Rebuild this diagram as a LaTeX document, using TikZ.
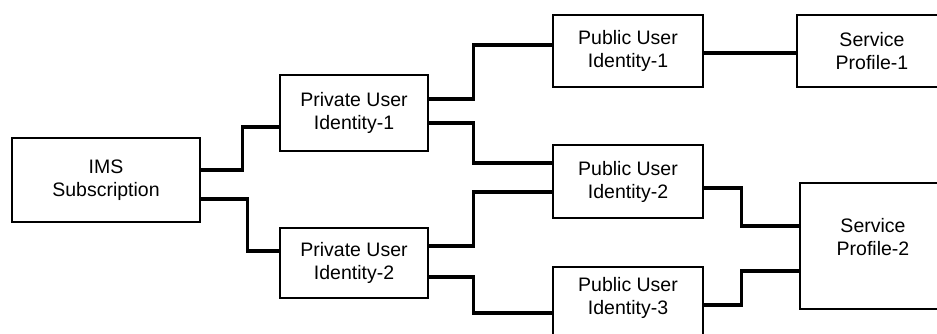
\documentclass[tikz,border=0pt]{standalone}
\usepackage{fontspec}
\setmainfont{Liberation Sans}
\begin{document}
\begin{tikzpicture}[x=1pt,y=-1pt,
  box/.style={draw=black, line width=2.6pt, fill=white, align=center, inner sep=0pt,
    font=\fontsize{19.5}{23}\selectfont},
  conn/.style={draw=black, line width=3.4pt}]
\useasboundingbox (0,0) rectangle (937,334);
\clip (0,0) rectangle (937,334);
\fill[white] (0,0) rectangle (937,334);
\node[box, minimum width=188pt, minimum height=84pt] (ims) at (106,180) {IMS\\Subscription};
\node[box, minimum width=148pt, minimum height=76pt] (pri1) at (354,113) {Private User\\Identity-1};
\node[box, minimum width=148pt, minimum height=70pt] (pri2) at (354,263) {Private User\\Identity-2};
\node[box, minimum width=150pt, minimum height=72pt] (pub1) at (628,51) {Public User\\Identity-1};
\node[box, minimum width=150pt, minimum height=73pt] (pub2) at (628,181.5) {Public User\\Identity-2};
\node[box, minimum width=150pt, minimum height=78pt, text depth=20pt] (pub3) at (628,306) {Public User\\Identity-3};
\node[box, minimum width=150pt, minimum height=72pt] (sp1) at (872,51) {Service\\Profile-1};
\node[box, minimum width=146pt, minimum height=126pt, text depth=19pt] (sp2) at (873,246) {Service\\Profile-2};
% connectors
\draw[conn] ([yshift=10pt]ims.east) -- ++(41,0) |- ([yshift=-14pt]pri1.west);
\draw[conn] ([yshift=-19pt]ims.east) -- ++(46,0) |- ([yshift=12pt]pri2.west);
\draw[conn] ([yshift=14pt]pri1.east) -- ++(44,0) |- ([yshift=6pt]pub1.west);
\draw[conn] ([yshift=-10pt]pri1.east) -- ++(44,0) |- ([yshift=18.5pt]pub2.west);
\draw[conn] ([yshift=17pt]pri2.east) -- ++(44,0) |- ([yshift=-10.5pt]pub2.west);
\draw[conn] ([yshift=-14pt]pri2.east) -- ++(44,0) |- ([yshift=-7pt]pub3.west);
\draw[conn] ([yshift=-2pt]pub1.east) -- ([yshift=-2pt]sp1.west);
\draw[conn] ([yshift=-6.5pt]pub2.east) -- ++(37,0) |- ([yshift=20pt]sp2.west);
\draw[conn] ([yshift=1pt]pub3.east) -- ++(37,0) |- ([yshift=-25pt]sp2.west);
\end{tikzpicture}
\end{document}
